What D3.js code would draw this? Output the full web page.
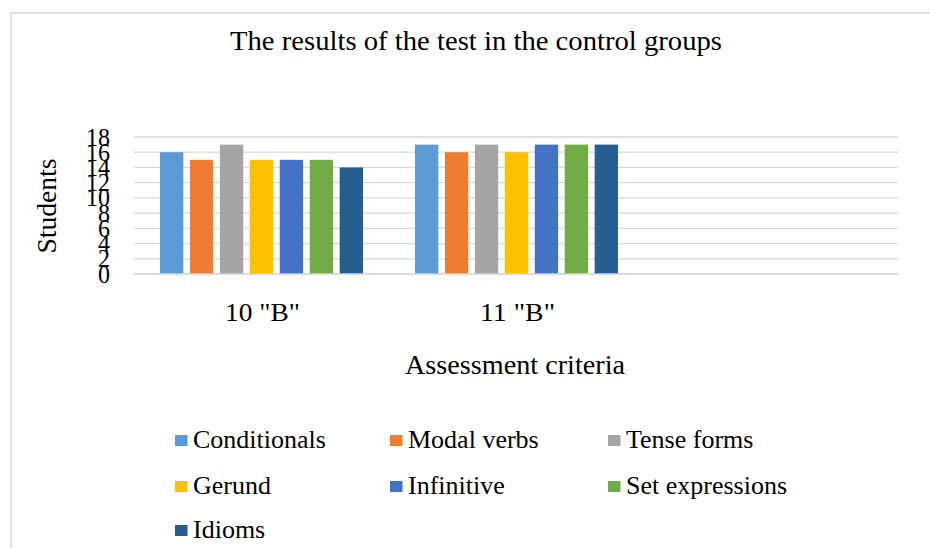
<!DOCTYPE html>
<html><head><meta charset="utf-8">
<script src="https://cdn.jsdelivr.net/npm/d3@7"></script>
<style>body{margin:0;background:#fff}</style>
</head><body>
<svg id="c" width="930" height="548"></svg>
<script>
const categories = ['10 "B"', '11 "B"', ''];
const seriesNames = ["Conditionals","Modal verbs","Tense forms","Gerund","Infinitive","Set expressions","Idioms"];
const seriesColors = ["#5b9bd5","#ed7d31","#a5a5a5","#ffc000","#4472c4","#70ad47","#255e91"];
const values10B = [16,15,17,15,15,15,14];
const values11B = [17,16,17,16,17,17,17];
const yTicks = [0,2,4,6,8,10,12,14,16,18];

const FONT = "'Liberation Serif', 'Times New Roman', Times, serif";
const groupData = [values10B, values11B, []];
const svg = d3.select("#c");
svg.append("rect").attr("x",11).attr("y",13).attr("width",940).attr("height",560)
  .attr("fill","#fff").attr("stroke","#d9d9d9").attr("stroke-width",1.5);

const x0 = d3.scaleBand().domain(categories).range([134,899]).paddingInner(0).paddingOuter(0);
const y = d3.scaleLinear().domain([0,18]).range([274,137]);
const GW = 203;
const x1 = d3.scaleBand().domain(seriesNames).range([0,GW]).paddingInner(0.22).paddingOuter(0);

const g = svg.append("g");
g.selectAll("line.grid").data(yTicks).join("line")
  .attr("x1",134).attr("x2",898).attr("y1",d=>y(d)).attr("y2",d=>y(d))
  .attr("stroke","#d9d9d9").attr("stroke-width",1.3);

const groups = g.selectAll("g.grp").data(categories).join("g")
  .attr("transform",(d,i)=>`translate(${x0(d)+ (x0.bandwidth()-GW)/2},0)`);
groups.each(function(c,i){
  const vals = groupData[i];
  d3.select(this).selectAll("rect").data(vals).join("rect")
    .attr("x",(v,j)=>x1(seriesNames[j]))
    .attr("width",x1.bandwidth())
    .attr("y",v=>y(v)).attr("height",v=>y(0)-y(v))
    .attr("fill",(v,j)=>seriesColors[j]);
});
g.append("line").attr("x1",134).attr("x2",898).attr("y1",y(0)).attr("y2",y(0))
  .attr("stroke","#d9d9d9").attr("stroke-width",1.3);

function styleText(sel, size){
  sel.attr("font-family",FONT).style("font-family",FONT).style("font-size",size+"px").attr("fill","#000");
  return sel;
}

// y axis labels
const yAxis = d3.axisLeft(y).tickValues(yTicks).tickSize(0).tickPadding(0);
const ya = svg.append("g").attr("transform","translate(110,0)").call(yAxis);
ya.attr("font-family",FONT);
ya.select(".domain").remove();
styleText(ya.selectAll("text").attr("dy","0.32em"), 25)
  .attr("textLength",d=>d>=10?24:12).attr("lengthAdjust","spacingAndGlyphs");

// x axis labels
const xAxis = d3.axisBottom(x0).tickSize(0).tickPadding(0);
const xa = svg.append("g").attr("transform","translate(1,303)").call(xAxis);
xa.attr("font-family",FONT);
xa.select(".domain").remove();
styleText(xa.selectAll("text").attr("dy","0.71em"), 26)
  .filter(d=>d!=="").attr("textLength",75).attr("lengthAdjust","spacingAndGlyphs");

styleText(svg.append("text").attr("x",476).attr("y",50).attr("text-anchor","middle")
  .attr("textLength",492).attr("lengthAdjust","spacingAndGlyphs")
  .text("The results of the test in the control groups"), 27);
styleText(svg.append("text").attr("x",515).attr("y",374).attr("text-anchor","middle")
  .attr("textLength",220).attr("lengthAdjust","spacingAndGlyphs")
  .text("Assessment criteria"), 27);
styleText(svg.append("text").attr("transform","translate(56,206) rotate(-90)").attr("text-anchor","middle")
  .attr("textLength",95).attr("lengthAdjust","spacingAndGlyphs")
  .text("Students"), 27);

// legend
const colX = [175,390,608];
const rowY = [448,494,538];
const leg = svg.append("g").selectAll("g").data(seriesNames).join("g")
  .attr("transform",(d,i)=>`translate(${colX[i%3]},${rowY[Math.floor(i/3)]})`);
leg.append("rect").attr("x",0).attr("y",-13).attr("width",12.5).attr("height",11)
  .attr("fill",(d,i)=>seriesColors[i]);
styleText(leg.append("text").attr("x",18).attr("y",0).text(d=>d), 26);
</script>
</body></html>
